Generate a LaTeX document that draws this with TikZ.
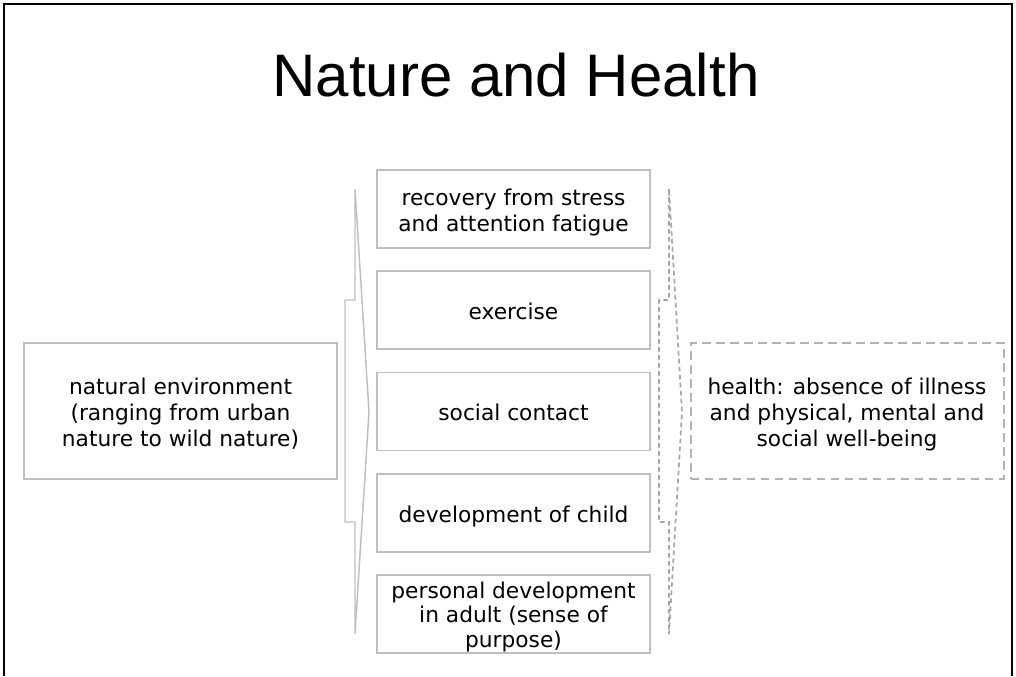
\documentclass[tikz,border=0pt]{standalone}
\usepackage{fontspec}
\setmainfont{DejaVu Sans}
\newfontfamily\titlefont{Liberation Sans}
\usetikzlibrary{positioning}

\newcommand{\boxlines}[1]{\begin{tabular}[t]{@{}c@{}}#1\end{tabular}}

\tikzset{
  effectbox/.style={draw=black!25, line width=1.1pt, minimum width=204.75pt, minimum height=58.5pt,
    inner sep=0pt, text height=19.5pt, font=\fontsize{16.3}{19.5}\selectfont},
  sidebox/.style={effectbox, minimum width=234.75pt, minimum height=102pt},
  healthbox/.style={sidebox, draw=black!30, line width=1.5pt, dash pattern=on 6.5pt off 4pt},
  chevron/.style={draw=black!25, line width=1.1pt, line join=miter},
}

\begin{document}
\begin{tikzpicture}[x=0.75pt,y=-0.75pt]
%\draw [help lines] (0,0) grid[step=50] (1016,676);
\useasboundingbox (0,0) rectangle (1016,676);
\draw[line width=1.5pt] (4,676) -- (4,4) -- (1012,4) -- (1012,676);

\node[anchor=base, font=\titlefont\fontsize{45}{54}\selectfont] (title) at (516,96) {Nature and Health};

\node[sidebox] (env) at (180.5,411) {\boxlines{natural environment\\(ranging from urban\\nature to wild nature)}};

\node[effectbox] (stress) at (513.5,209) {\boxlines{recovery from stress\\and attention fatigue}};
\node[effectbox] (exercise) at (513.5,310) {\boxlines{exercise}};
\node[effectbox] (social) at (513.5,411.5) {\boxlines{social contact}};
\node[effectbox] (child) at (513.5,513) {\boxlines{development of child}};
\node[effectbox, font=\fontsize{16.3}{18.4}\selectfont, text height=17.5pt, text depth=41pt] (adult) at (513.5,614)
  {\boxlines{personal development\\in adult (sense of\\purpose)}};

\node[healthbox] (health) at (847,411) {\boxlines{health: absence of illness\\and physical, mental and\\social well-being}};

%\draw [red, dashed] (345,189) -- (369,189);
\draw[chevron] (355,189) -- (355,300) -- (345,300) -- (345,522) -- (355,522) -- (355,634) -- (369,412) -- cycle;
\draw[chevron, draw=black!35, line width=1.3pt, dash pattern=on 3.5pt off 2.5pt] (669,189) -- (669,300) -- (659,300) -- (659,522) -- (669,522) -- (669,634) -- (682,412) -- cycle;
\end{tikzpicture}
\end{document}
